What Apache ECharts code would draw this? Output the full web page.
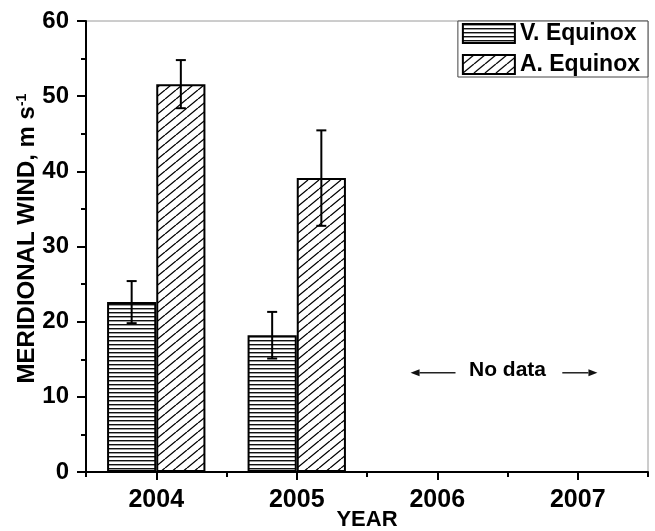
<!DOCTYPE html>
<html><head><meta charset="utf-8">
<script src="https://cdn.jsdelivr.net/npm/echarts@6/dist/echarts.min.js"></script>
<style>html,body{margin:0;padding:0;background:#fff}#c{width:655px;height:531px}</style>
</head><body><div id="c"></div>
<script>
// ---- data ----
const years = ['2004', '2005', '2006', '2007'];
const vernal = [22.6, 18.2, null, null];
const vernalErr = [2.8, 3.1, null, null];
const autumnal = [51.6, 39.1, null, null];
const autumnalErr = [3.2, 6.35, null, null];
const seriesNames = ['V. Equinox', 'A. Equinox'];
const yMin = 0, yMax = 60, yStep = 10;
const noteText = 'No data';
const notePos = [3.0, 13.6];           // band units along x, value on y
const noteArrows = [[2.63, 2.31], [3.39, 3.64]];
const noteArrowY = 13.2;

const FONT = '"Liberation Sans", Arial, Helvetica, sans-serif';

function hPattern() {
  const c = document.createElement('canvas'); c.width = 8; c.height = 4;
  const g = c.getContext('2d');
  g.fillStyle = '#fff'; g.fillRect(0, 0, 8, 4);
  g.fillStyle = '#111'; g.fillRect(0, 0, 8, 1);
  g.fillStyle = '#9a9a9a'; g.fillRect(0, 1, 8, 1);
  return c;
}
function dPattern() {
  const w = 11, h = 9;
  const c = document.createElement('canvas'); c.width = w; c.height = h;
  const g = c.getContext('2d');
  g.fillStyle = '#fff'; g.fillRect(0, 0, w, h);
  g.strokeStyle = '#000'; g.lineWidth = 1.3;
  g.beginPath();
  for (const dx of [-w, 0, w]) { g.moveTo(dx, h); g.lineTo(dx + w, 0); }
  g.stroke();
  return c;
}
const hFill = { image: hPattern(), repeat: 'repeat' };
const dFill = { image: dPattern(), repeat: 'repeat' };

function errSeries(vals, errs, side) {
  const data = [];
  vals.forEach((v, i) => { if (v != null) data.push([i, v - errs[i], v + errs[i]]); });
  return {
    type: 'custom', xAxisIndex: 0, yAxisIndex: 0, z: 5, silent: true,
    encode: { x: 0, y: [1, 2] },
    data,
    renderItem(params, api) {
      const i = api.value(0);
      const lo = api.coord([i, api.value(1)]);
      const hi = api.coord([i, api.value(2)]);
      const band = api.size([1, 0])[0];
      const x = lo[0] + side * band * 0.175;
      const cap = 5;
      const st = { stroke: '#000', lineWidth: 2 };
      return { type: 'group', children: [
        { type: 'line', shape: { x1: x, y1: hi[1], x2: x, y2: lo[1] }, style: st },
        { type: 'line', shape: { x1: x - cap, y1: hi[1], x2: x + cap, y2: hi[1] }, style: st },
        { type: 'line', shape: { x1: x - cap, y1: lo[1], x2: x + cap, y2: lo[1] }, style: st }
      ]};
    }
  };
}

const chart = echarts.init(document.getElementById('c'), null, { renderer: 'canvas' });
chart.setOption({
  backgroundColor: '#fff',
  animation: false,
  textStyle: { fontFamily: FONT },
  grid: { left: 86, right: 7, top: 21, bottom: 59, containLabel: false, outerBoundsMode: 'none',
          show: true, borderColor: '#9a9a9a', borderWidth: 1, backgroundColor: 'transparent' },
  legend: {
    orient: 'vertical', right: 7, top: 21,
    data: seriesNames,
    itemWidth: 52, itemHeight: 19, itemGap: 8,
    padding: [1, 8, 1, 4],
    borderColor: '#444', borderWidth: 1, backgroundColor: '#fff',
    icon: 'rect',
    itemStyle: { borderColor: '#000', borderWidth: 2 },
    textStyle: { fontSize: 23, fontWeight: 'bold', color: '#000', fontFamily: FONT }
  },
  xAxis: [
    {
      type: 'category', data: years, position: 'bottom',
      name: 'YEAR', nameLocation: 'middle', nameGap: 37, nameMoveOverlap: false,
      nameTextStyle: { fontSize: 22, fontWeight: 'bold', color: '#000', fontFamily: FONT },
      axisLine: { show: true, lineStyle: { color: '#000', width: 2 } },
      axisTick: { show: true, alignWithLabel: true, length: 8, lineStyle: { color: '#000', width: 2 } },
      axisLabel: { fontSize: 25, fontWeight: 'bold', color: '#000', margin: 16, fontFamily: FONT },
      splitLine: { show: false }
    },
    {
      type: 'category', data: years, position: 'bottom', offset: 0,
      axisLine: { show: false },
      axisTick: { show: true, alignWithLabel: false, length: 5, lineStyle: { color: '#000', width: 2 } },
      axisLabel: { show: false }, splitLine: { show: false }
    },
    { type: 'value', min: 0, max: years.length, show: false }
  ],
  yAxis: {
    type: 'value', min: yMin, max: yMax, interval: yStep,
    name: 'MERIDIONAL WIND, m s{sup|-1}', nameLocation: 'middle', nameGap: 47, nameMoveOverlap: false,
    nameTextStyle: { fontSize: 24, fontWeight: 'bold', color: '#000', fontFamily: FONT, padding: [0, 0, 0, 16],
      rich: { sup: { fontSize: 14, fontWeight: 'bold', color: '#000', fontFamily: FONT, padding: [0, 0, 10, 0] } } },
    axisLine: { show: true, lineStyle: { color: '#000', width: 2 } },
    axisTick: { show: true, length: 9, lineStyle: { color: '#000', width: 2 } },
    minorTick: { show: true, splitNumber: 2, length: 5, lineStyle: { color: '#000', width: 2 } },
    axisLabel: { fontSize: 24, fontWeight: 'bold', color: '#000', margin: 17, fontFamily: FONT },
    splitLine: { show: false }
  },
  series: [
    { name: seriesNames[0], type: 'bar', xAxisIndex: 0, data: vernal, barWidth: '35%', barGap: '0%',
      itemStyle: { color: hFill, borderColor: '#000', borderWidth: 2 } },
    { name: seriesNames[1], type: 'bar', xAxisIndex: 0, data: autumnal, barWidth: '35%', barGap: '0%',
      itemStyle: { color: dFill, borderColor: '#000', borderWidth: 2 } },
    errSeries(vernal, vernalErr, -1),
    errSeries(autumnal, autumnalErr, 1),
    {
      type: 'custom', xAxisIndex: 2, yAxisIndex: 0, silent: true, z: 6,
      data: [notePos],
      renderItem(params, api) {
        const p = api.coord([api.value(0), api.value(1)]);
        const children = [{ type: 'text', x: p[0], y: p[1],
          style: { text: noteText, fill: '#000', font: 'bold 21px ' + FONT, align: 'center', verticalAlign: 'middle' } }];
        noteArrows.forEach(([from, to]) => {
          const a = api.coord([from, noteArrowY]);
          const b = api.coord([to, noteArrowY]);
          const dir = Math.sign(b[0] - a[0]);
          const headLen = 9, hw = 3.5;
          children.push({ type: 'line', shape: { x1: a[0], y1: a[1], x2: b[0] - dir * headLen, y2: b[1] },
            style: { stroke: '#222', lineWidth: 1.5 } });
          children.push({ type: 'polygon', shape: { points: [[b[0], b[1]], [b[0] - dir * headLen, b[1] - hw], [b[0] - dir * headLen, b[1] + hw]] },
            style: { fill: '#111' } });
        });
        return { type: 'group', children };
      }
    }
  ]
});
</script>
</body></html>
